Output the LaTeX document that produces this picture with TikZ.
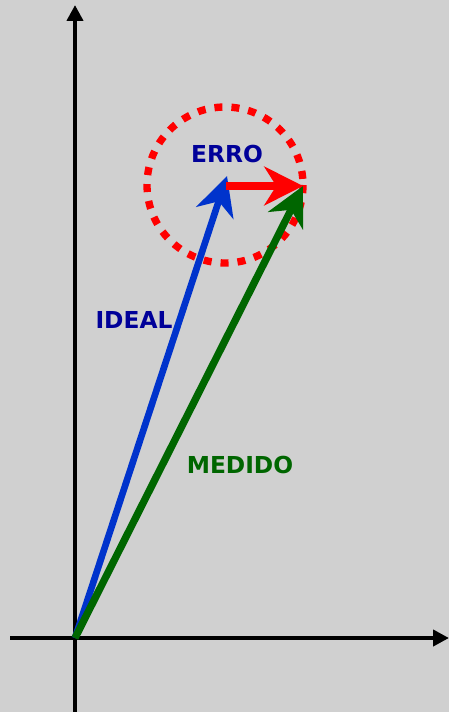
\documentclass[tikz,border=0pt]{standalone}
\usepackage{fontspec}
\setmainfont{DejaVu Sans}
\usepackage{xcolor}
\usetikzlibrary{arrows.meta,positioning,calc}
\definecolor{bg}{HTML}{D0D0D0}
\definecolor{idealblue}{HTML}{0033CC}
\definecolor{navytext}{HTML}{000099}
\definecolor{medgreen}{HTML}{006600}
\definecolor{errred}{HTML}{FF0000}

\begin{document}
\begin{tikzpicture}[x=0.75pt, y=-0.75pt,
  axis/.style={line width=3.5pt, -{Triangle[length=12pt, width=12pt]}},
  vec/.style={line width=5.5pt, -{Stealth[length=29pt, width=29pt, inset=9pt]}},
  lbl/.style={font=\bfseries\fontsize{17.5}{20}\selectfont, inner sep=1pt}]
  \fill[bg] (0,0) rectangle (449,712);
  \useasboundingbox (0,0) rectangle (449,712);
  % points
  \coordinate (O) at (75,638);
  \coordinate (xl) at (10,638);
  \coordinate (xr) at (449,638);
  \coordinate (yb) at (75,712);
  \coordinate (yt) at (75,5);
  \coordinate (idealtip) at (227,176);
  \coordinate (errstart) at (226,186);
  \coordinate (medtip) at (303,186);
  \coordinate (errcenter) at (225,185);
  % axes
  \draw[axis] (xl) -- (xr);
  \draw[axis] (yb) -- (yt);
  % error circle
  \draw[errred, line width=5.5pt, dash pattern=on 6pt off 6.75pt] (errcenter) circle[radius=78];
  % vectors
  \draw[vec, idealblue, line width=5pt] (O) -- (idealtip);
  \draw[vec, medgreen] (O) -- (medtip);
  \draw[vec, errred, line width=6pt] (errstart) -- (medtip);
  % labels
  \node[lbl, text=navytext] (erro) at (227,154) {ERRO};
  \node[lbl, text=navytext] (ideal) at (134,320) {IDEAL};
  \node[lbl, text=medgreen] (medido) at (240,465) {MEDIDO};
\end{tikzpicture}
\end{document}
